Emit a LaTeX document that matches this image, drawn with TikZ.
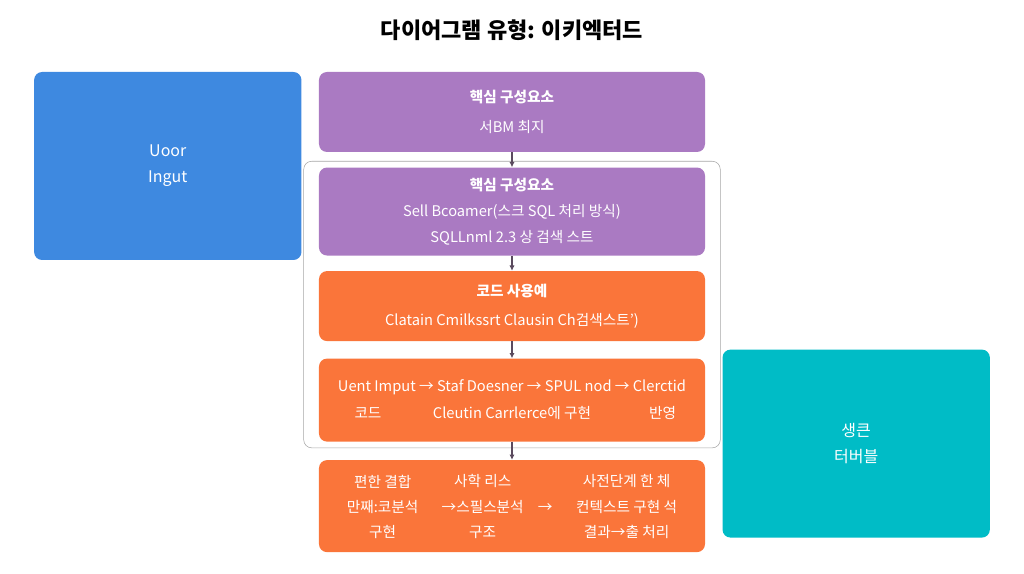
\documentclass[tikz,border=0pt]{standalone}
\usepackage{fontspec}
\setmainfont{Noto Sans CJK KR}
\usetikzlibrary{arrows.meta,positioning,fit,calc}
\definecolor{blu}{RGB}{62,137,224}
\definecolor{pur}{RGB}{170,122,194}
\definecolor{org}{RGB}{250,117,58}
\definecolor{tea}{RGB}{0,188,198}
\definecolor{dar}{RGB}{90,74,94}
\tikzset{
  panel/.style={rectangle,rounded corners=6pt,text=white,align=center,
    minimum width=289.5pt,font=\fontsize{11}{19.5}\selectfont},
  layerp/.style={panel,fill=pur},
  layero/.style={panel,fill=org},
  sidebox/.style={panel,minimum width=200.5pt,minimum height=141pt,
    font=\fontsize{12}{19.5}\selectfont},
  txt/.style={text=white,align=center,inner sep=0pt,font=\fontsize{11}{19}\selectfont},
  flow/.style={-{Latex[length=4pt,width=4pt]},thick,draw=dar},
  frame/.style={draw=gray!70,rounded corners=6pt,thin},
}
\begin{document}
\begin{tikzpicture}
\useasboundingbox (-384pt,84pt) rectangle (384pt,-346.5pt);
\node[font=\bfseries\fontsize{16.5}{18}\selectfont] (title) at (0,61.5pt) {다이어그램 유형: 이키엑터드};

% main column
\node[layerp,minimum height=60pt] (p1) at (0,0) {\textbf{핵심 구성요소}\\[3pt]서BM 최지};
\node[layerp,minimum height=66pt,below=11.25pt of p1] (p2)
  {\textbf{핵심 구성요소}\\Sell Bcoamer(스크 SQL 처리 방식)\\SQLLnml 2.3 상 검색 스트};
\node[layero,minimum height=52.5pt,below=11.25pt of p2] (o1)
  {\textbf{코드 사용예}\\[2pt]Clatain Cmilkssrt Clausin Ch검색스트’)};
\node[layero,minimum height=62.25pt,below=12.75pt of o1] (o2) {};
\node[layero,minimum height=69pt,below=13.5pt of o2] (o3) {};

% texts of the two wide panels
\node[txt] (o2r1) at ($(o2)+(0,9.4pt)$) {Uent Imput → Staf Doesner → SPUL nod → Clerctid};
\node[txt] (o2a) at ($(o2)+(-108pt,-9.4pt)$) {코드};
\node[txt] (o2b) at ($(o2)+(0,-9.4pt)$) {Cleutin Carrlerce에 구현};
\node[txt] (o2c) at ($(o2)+(113pt,-9.4pt)$) {반영};

\node[txt] (o3a) at ($(o3)+(-97pt,-0.5pt)$) {편한 결합\\만째:코분석\\구현};
\node[txt] (o3b) at ($(o3)+(-22pt,-0.5pt)$) {사학 리스\\→스필스분석\\구조};
\node[txt] (o3x) at ($(o3)+(25pt,-1.5pt)$) {→};
\node[txt] (o3c) at ($(o3)+(86pt,-0.5pt)$) {사전단계 한 체\\컨텍스트 구현 석\\결과→출 처리};

% side panels
\node[sidebox,fill=blu,left=12.75pt of p1.north west,anchor=north east] (inp) {Uoor\\Ingut};
\node[sidebox,fill=tea,anchor=north west] (outp) at ($(o2.north east)+(12.75pt,6.75pt)$) {생큰\\터버블};

% grouping frame
\node[frame,fit=(p2)(o2),inner xsep=11.25pt,inner ysep=4.5pt] (grp) {};

% flow arrows
\draw[flow] (p1) -- (p2);
\draw[flow] (p2) -- (o1);
\draw[flow] (o1) -- (o2);
\draw[flow] (o2) -- (o3);
\end{tikzpicture}
\end{document}
